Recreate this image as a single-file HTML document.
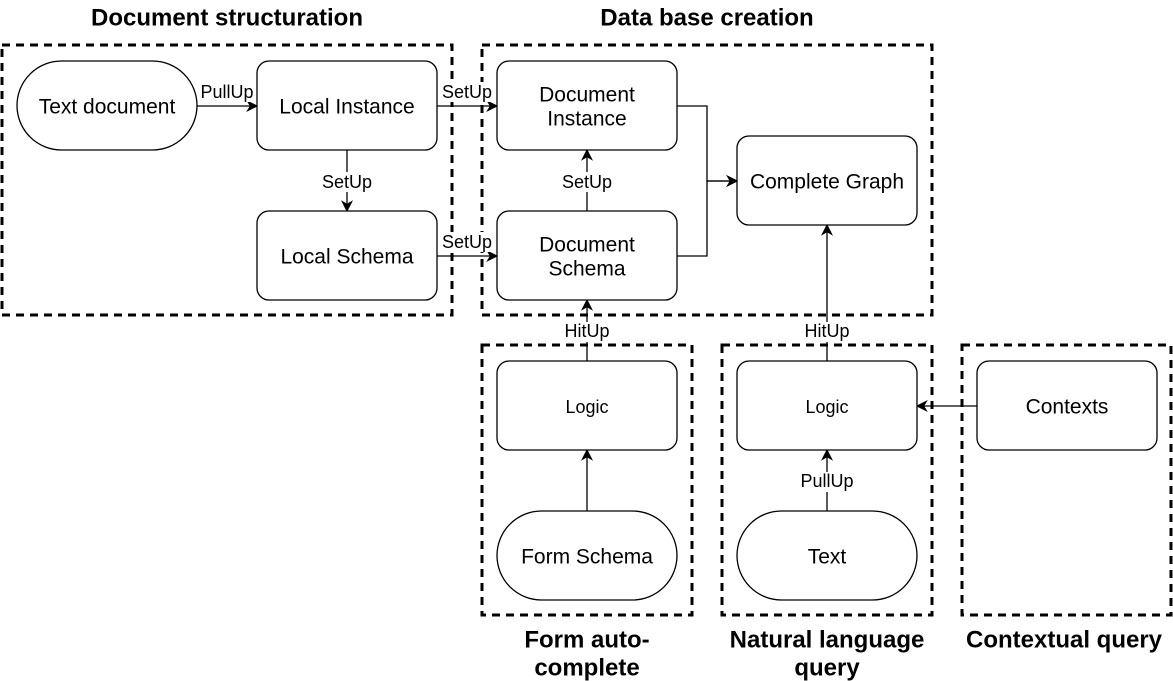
<!DOCTYPE html>
<html><head><meta charset="utf-8">
<style>
html,body{margin:0;padding:0;background:#fff;}
svg{display:block;}
text{font-family:"Liberation Sans",Arial,sans-serif;fill:#000;}
.n{font-size:21px;text-anchor:middle;dominant-baseline:middle;}
.s{font-size:18px;text-anchor:middle;dominant-baseline:middle;}
.t{font-size:24px;font-weight:bold;text-anchor:middle;dominant-baseline:middle;}
.box{fill:#fff;stroke:#000;stroke-width:1.3;}
.grp{fill:none;stroke:#000;stroke-width:3;stroke-dasharray:8 6;}
.e{fill:none;stroke:#000;stroke-width:1.3;}
</style></head><body>
<svg width="1173" height="681" viewBox="0 0 1173 681" xmlns="http://www.w3.org/2000/svg">
<defs>
<marker id="a" viewBox="0 0 10 10" refX="9" refY="5" markerWidth="12" markerHeight="12" markerUnits="userSpaceOnUse" orient="auto">
<path d="M0,0 L10,5 L0,10 L3,5 Z" fill="#000"/>
</marker>
</defs>
<rect class="grp" x="2" y="45" width="450" height="270"/>
<rect class="grp" x="482" y="45" width="450" height="270"/>
<rect class="grp" x="482" y="345" width="210" height="270"/>
<rect class="grp" x="722" y="345" width="210" height="270"/>
<rect class="grp" x="962" y="345" width="209" height="270"/>
<text class="t" x="227" y="19">Document structuration</text>
<text class="t" x="707" y="19">Data base creation</text>
<text class="t" x="587" y="641">Form auto-</text>
<text class="t" x="587" y="669">complete</text>
<text class="t" x="827" y="641">Natural language</text>
<text class="t" x="827" y="669">query</text>
<text class="t" x="1064" y="641">Contextual query</text>
<path class="e" d="M197,106 L257,106" marker-end="url(#a)"/>
<path class="e" d="M437,106 L497,106" marker-end="url(#a)"/>
<path class="e" d="M347,150 L347,211" marker-end="url(#a)"/>
<path class="e" d="M437,256 L497,256" marker-end="url(#a)"/>
<path class="e" d="M587,211 L587,150" marker-end="url(#a)"/>
<path class="e" d="M677,106 L707,106 L707,181 L737,181" marker-end="url(#a)"/>
<path class="e" d="M677,256 L707,256 L707,181 L737,181" marker-end="url(#a)"/>
<path class="e" d="M587,361 L587,300" marker-end="url(#a)"/>
<path class="e" d="M587,511 L587,450" marker-end="url(#a)"/>
<path class="e" d="M827,361 L827,225" marker-end="url(#a)"/>
<path class="e" d="M827,511 L827,450" marker-end="url(#a)"/>
<path class="e" d="M977,406 L917,406" marker-end="url(#a)"/>
<rect x="199" y="82" width="57" height="20" fill="#fff"/><text class="s" x="227" y="93">PullUp</text>
<rect x="441" y="82" width="52" height="20" fill="#fff"/><text class="s" x="467" y="93">SetUp</text>
<rect x="320" y="172" width="54" height="20" fill="#fff"/><text class="s" x="347" y="183">SetUp</text>
<rect x="441" y="232" width="52" height="20" fill="#fff"/><text class="s" x="467" y="243">SetUp</text>
<rect x="560" y="172" width="54" height="20" fill="#fff"/><text class="s" x="587" y="183">SetUp</text>
<rect x="561" y="322" width="52" height="20" fill="#fff"/><text class="s" x="587" y="332">HitUp</text>
<rect x="801" y="322" width="52" height="20" fill="#fff"/><text class="s" x="827" y="332">HitUp</text>
<rect x="798" y="472" width="58" height="20" fill="#fff"/><text class="s" x="827" y="482">PullUp</text>
<rect class="box" x="17" y="61" width="180" height="89" rx="44.5"/><text class="n" x="107" y="108">Text document</text>
<rect class="box" x="257" y="61" width="180" height="89" rx="12"/><text class="n" x="347" y="108">Local Instance</text>
<rect class="box" x="257" y="211" width="180" height="89" rx="12"/><text class="n" x="347" y="258">Local Schema</text>
<rect class="box" x="497" y="61" width="180" height="89" rx="12"/><text class="n" x="587" y="96">Document</text><text class="n" x="587" y="120">Instance</text>
<rect class="box" x="497" y="211" width="180" height="89" rx="12"/><text class="n" x="587" y="246">Document</text><text class="n" x="587" y="270">Schema</text>
<rect class="box" x="737" y="136" width="180" height="89" rx="12"/><text class="n" x="827" y="183">Complete Graph</text>
<rect class="box" x="497" y="361" width="180" height="89" rx="12"/><text class="s" x="587" y="408">Logic</text>
<rect class="box" x="497" y="511" width="180" height="89" rx="44.5"/><text class="n" x="587" y="558">Form Schema</text>
<rect class="box" x="737" y="361" width="180" height="89" rx="12"/><text class="s" x="827" y="408">Logic</text>
<rect class="box" x="737" y="511" width="180" height="89" rx="44.5"/><text class="n" x="827" y="558">Text</text>
<rect class="box" x="977" y="361" width="180" height="89" rx="12"/><text class="n" x="1067" y="408">Contexts</text>
</svg>
</body></html>
